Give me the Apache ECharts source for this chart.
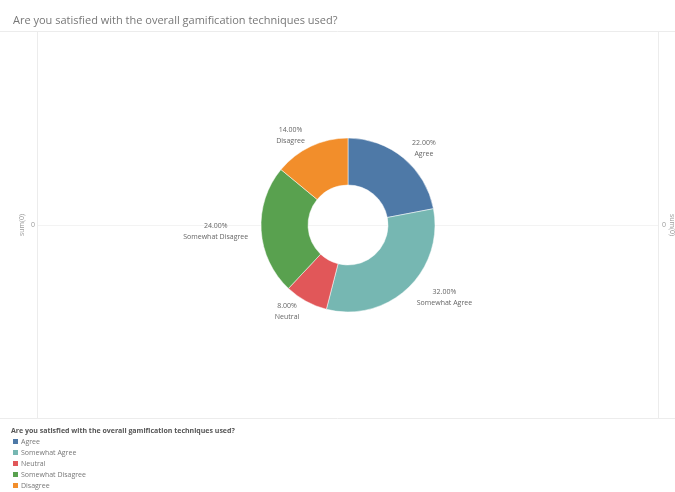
<!DOCTYPE html>
<html>
<head>
<meta charset="utf-8">
<script src="https://cdn.jsdelivr.net/npm/echarts@6/dist/echarts.min.js"></script>
<style>
  html, body { margin: 0; padding: 0; background: #fff; }
  #chart { width: 675px; height: 492px; }
</style>
</head>
<body>
<div id="chart"></div>
<script>
// Survey answers and their share of responses (percent)
const question = 'Are you satisfied with the overall gamification techniques used?';
const categories = ['Agree', 'Somewhat Agree', 'Neutral', 'Somewhat Disagree', 'Disagree'];
const shares = [22, 32, 8, 24, 14];
const palette = ['#4e79a7', '#76b7b2', '#e15759', '#59a14f', '#f28e2b'];

const FONT = '"Open Sans", "Noto Sans", sans-serif';
const chart = echarts.init(document.getElementById('chart'), null, { renderer: 'canvas' });

const pieData = categories.map((name, i) => ({
  name: name,
  value: shares[i],
  itemStyle: { color: palette[i] }
}));

const frame = '#ececec';

chart.setOption({
  backgroundColor: '#ffffff',
  animation: false,
  title: {
    text: question,
    left: 8,
    top: 10,
    textStyle: { fontFamily: FONT, fontSize: 11, fontWeight: 'normal', color: '#777' }
  },
  legend: {
    orient: 'vertical',
    left: 11,
    top: 437,
    height: 55,
    padding: 0,
    itemWidth: 7,
    itemHeight: 7,
    itemGap: 2,
    icon: 'rect',
    data: categories,
    textStyle: { fontFamily: FONT, fontSize: 7, lineHeight: 8, color: '#777', padding: [0, 0, 0, -3] }
  },
  graphic: [
    // pane frame
    { type: 'line', shape: { x1: 0, y1: 31.5, x2: 675, y2: 31.5 }, style: { stroke: frame, lineWidth: 1 } },
    { type: 'line', shape: { x1: 37.5, y1: 31, x2: 37.5, y2: 418 }, style: { stroke: frame, lineWidth: 1 } },
    { type: 'line', shape: { x1: 658.5, y1: 31, x2: 658.5, y2: 418 }, style: { stroke: frame, lineWidth: 1 } },
    { type: 'line', shape: { x1: 0, y1: 418.5, x2: 675, y2: 418.5 }, style: { stroke: frame, lineWidth: 1 } },
    { type: 'line', shape: { x1: 38, y1: 225.5, x2: 658, y2: 225.5 }, style: { stroke: '#f3f3f3', lineWidth: 1 } },
    // axis stubs on both sides
    { type: 'text', x: 22, y: 225, rotation: Math.PI / 2,
      style: { text: 'sum(0)', fontFamily: FONT, fontSize: 7, fill: '#999', align: 'center', verticalAlign: 'middle' } },
    { type: 'text', x: 33, y: 225,
      style: { text: '0', fontFamily: FONT, fontSize: 7, fill: '#999', align: 'center', verticalAlign: 'middle' } },
    { type: 'text', x: 664, y: 225,
      style: { text: '0', fontFamily: FONT, fontSize: 7, fill: '#999', align: 'center', verticalAlign: 'middle' } },
    { type: 'text', x: 672, y: 225, rotation: -Math.PI / 2,
      style: { text: 'sum(0)', fontFamily: FONT, fontSize: 7, fill: '#999', align: 'center', verticalAlign: 'middle' } },
    // legend heading
    { type: 'text', left: 11, top: 427,
      style: { text: question, fontFamily: FONT, fontSize: 7, fontWeight: 'bold', fill: '#555' } }
  ],
  series: [{
    type: 'pie',
    center: [348, 225],
    radius: [40, 87],
    startAngle: 90,
    clockwise: true,
    avoidLabelOverlap: false,
    itemStyle: { borderColor: '#ffffff', borderWidth: 0.5 },
    label: {
      show: true,
      position: 'outside',
      fontFamily: FONT,
      fontSize: 7,
      lineHeight: 11,
      color: '#666',
      formatter: p => p.value.toFixed(2) + '%\n' + p.name,
      distanceToLabelLine: 1
    },
    labelLine: { show: false, length: 12, length2: 0 },
    // keep the library's label placement but centre the two lines on each other
    labelLayout: p => ({
      x: p.labelRect.x + p.labelRect.width / 2,
      y: p.labelRect.y + p.labelRect.height / 2,
      align: 'center',
      verticalAlign: 'middle'
    }),
    emphasis: { disabled: true },
    data: pieData
  }]
});
</script>
</body>
</html>
